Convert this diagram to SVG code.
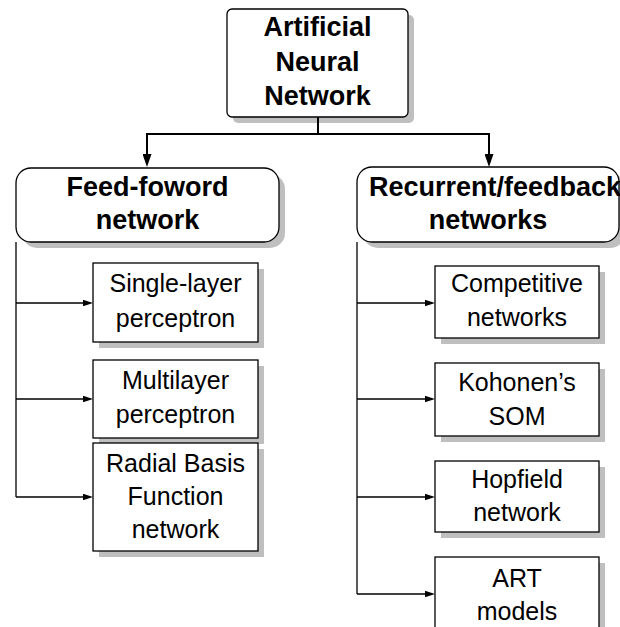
<svg xmlns="http://www.w3.org/2000/svg" width="620" height="627" viewBox="0 0 620 627">
  <style>
    .box { fill: #ffffff; stroke: #000000; stroke-width: 1.3; }
    .shadow { fill: #bfbfbf; stroke: none; }
    .title { font-family: "Liberation Sans", Arial, sans-serif; font-weight: bold; font-size: 27px; fill: #000; text-anchor: middle; }
    .label { font-family: "Liberation Sans", Arial, sans-serif; font-size: 25px; fill: #000; text-anchor: middle; }
    .trunk { fill: none; stroke: #000; stroke-width: 2; }
    .branch { fill: none; stroke: #000; stroke-width: 1.3; }
  </style>
  <defs>
    <marker id="headBig" markerUnits="userSpaceOnUse" viewBox="0 0 13 9" markerWidth="13" markerHeight="9" refX="8" refY="4.5" orient="auto">
      <path d="M0,0 L13,4.5 L0,9 z" fill="#000"/>
    </marker>
    <marker id="headSmall" markerUnits="userSpaceOnUse" viewBox="0 0 10 6.5" markerWidth="10" markerHeight="6.5" refX="6" refY="3.25" orient="auto">
      <path d="M0,0 L10,3.25 L0,6.5 z" fill="#000"/>
    </marker>
  </defs>

  <!-- root -->
  <g id="ann">
    <rect class="shadow" x="233" y="15" width="181" height="108" rx="5"/>
    <rect class="box" x="227" y="9" width="181" height="108" rx="5"/>
    <text class="title" x="317.5" y="36">Artificial</text>
    <text class="title" x="317.5" y="71">Neural</text>
    <text class="title" x="317.5" y="105">Network</text>
  </g>

  <!-- second level -->
  <g id="feedforward">
    <rect class="shadow" x="22" y="174" width="263" height="74" rx="15"/>
    <rect class="box" x="16" y="168" width="263" height="74" rx="15"/>
    <text class="title" x="147.5" y="196">Feed-foword</text>
    <text class="title" x="147.5" y="229">network</text>
  </g>
  <g id="recurrent">
    <rect class="shadow" x="363" y="173" width="262" height="75" rx="15"/>
    <rect class="box" x="357" y="167" width="262" height="75" rx="15"/>
    <text class="title" x="369" y="196" style="text-anchor:start">Recurrent/feedback</text>
    <text class="title" x="488" y="229">networks</text>
  </g>

  <!-- feed-forward leaves -->
  <g id="single-layer">
    <rect class="shadow" x="99" y="269" width="165" height="79"/>
    <rect class="box" x="93" y="263" width="165" height="79"/>
    <text class="label" x="175.5" y="291.5">Single-layer</text>
    <text class="label" x="175.5" y="326.5">perceptron</text>
  </g>
  <g id="multilayer">
    <rect class="shadow" x="99" y="366" width="165" height="78"/>
    <rect class="box" x="93" y="360" width="165" height="78"/>
    <text class="label" x="175.5" y="389">Multilayer</text>
    <text class="label" x="175.5" y="423">perceptron</text>
  </g>
  <g id="rbf">
    <rect class="shadow" x="99" y="449" width="165" height="108"/>
    <rect class="box" x="93" y="443" width="165" height="108"/>
    <text class="label" x="175.5" y="472">Radial Basis</text>
    <text class="label" x="175.5" y="505">Function</text>
    <text class="label" x="175.5" y="538">network</text>
  </g>

  <!-- recurrent leaves -->
  <g id="competitive">
    <rect class="shadow" x="441" y="272" width="164" height="72"/>
    <rect class="box" x="435" y="266" width="164" height="72"/>
    <text class="label" x="517" y="292">Competitive</text>
    <text class="label" x="517" y="326">networks</text>
  </g>
  <g id="kohonen">
    <rect class="shadow" x="441" y="369" width="164" height="73"/>
    <rect class="box" x="435" y="363" width="164" height="73"/>
    <text class="label" x="517" y="391">Kohonen’s</text>
    <text class="label" x="517" y="425">SOM</text>
  </g>
  <g id="hopfield">
    <rect class="shadow" x="441" y="467" width="164" height="71"/>
    <rect class="box" x="435" y="461" width="164" height="71"/>
    <text class="label" x="517" y="488">Hopfield</text>
    <text class="label" x="517" y="521">network</text>
  </g>
  <g id="art">
    <rect class="shadow" x="441" y="563" width="164" height="76"/>
    <rect class="box" x="435" y="557" width="164" height="76"/>
    <text class="label" x="517" y="587">ART</text>
    <text class="label" x="517" y="620">models</text>
  </g>

  <!-- connectors -->
  <g id="connectors">
    <path class="trunk" d="M318,117 V134"/>
    <path class="trunk" d="M147,134 H489"/>
    <path class="trunk" d="M147,133 V162" marker-end="url(#headBig)"/>
    <path class="trunk" d="M489,133 V162" marker-end="url(#headBig)"/>

    <path class="branch" d="M16,242 V497"/>
    <path class="branch" d="M16,303 H89" marker-end="url(#headSmall)"/>
    <path class="branch" d="M16,399 H89" marker-end="url(#headSmall)"/>
    <path class="branch" d="M16,497 H89" marker-end="url(#headSmall)"/>

    <path class="branch" d="M357,242 V594"/>
    <path class="branch" d="M357,303 H431" marker-end="url(#headSmall)"/>
    <path class="branch" d="M357,399 H431" marker-end="url(#headSmall)"/>
    <path class="branch" d="M357,497 H431" marker-end="url(#headSmall)"/>
    <path class="branch" d="M357,594 H431" marker-end="url(#headSmall)"/>
  </g>
</svg>
